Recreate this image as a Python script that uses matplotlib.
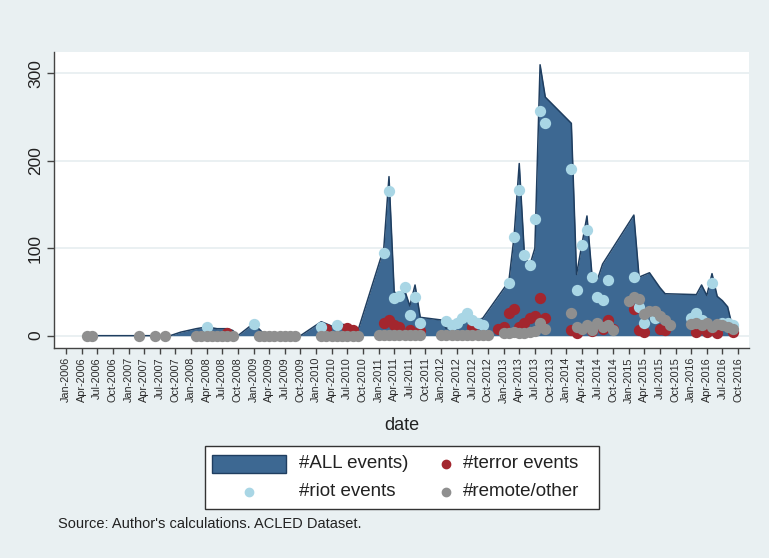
import matplotlib
matplotlib.use("Agg")
import matplotlib.pyplot as plt
from matplotlib.patches import Rectangle
from matplotlib.lines import Line2D

plt.rcParams['font.family'] = ['Liberation Sans', 'DejaVu Sans']

# months counted from Jan-2006 (0) -> Oct-2016 (129)
all_months = [4, 5, 14, 17, 19, 20, 22, 25, 27, 29, 31, 32, 33, 36, 38, 40, 42, 45,
              49, 51, 53, 54, 55, 56, 61, 62, 63, 64, 65, 66, 67, 68, 72, 73, 74, 75,
              76, 77, 78, 79, 80, 85, 86, 87, 88, 89, 90, 91, 92, 97, 98, 100, 101,
              102, 103, 109, 110, 112, 114, 115, 121, 122, 123, 124, 125, 126, 127, 128]
all_events = [0, 0, 0, 0, 0, 0, 4, 8, 10, 8, 8, 6, 0, 14, 2, 1, 2, 0,
              16, 11, 13, 12, 9, 5, 100, 182, 50, 47, 52, 34, 58, 21, 18, 8, 15, 17,
              20, 24, 22, 18, 20, 62, 113, 197, 92, 80, 100, 310, 273, 243, 70, 137, 67,
              64, 82, 138, 67, 72, 55, 48, 47, 58, 46, 71, 45, 40, 33, 8]

riot_months = [27, 36, 49, 52, 61, 62, 63, 64, 65, 66, 67, 68, 73, 74, 75, 76, 77, 78,
               79, 80, 85, 86, 87, 88, 89, 90, 91, 92, 97, 98, 99, 100, 101, 102, 103,
               104, 109, 110, 111, 113, 120, 121, 122, 124, 126, 127, 128]
riot_events = [10, 13, 10, 12, 95, 165, 43, 45, 56, 24, 44, 14, 17, 12, 14, 20, 26, 18,
               15, 12, 60, 113, 167, 92, 81, 133, 257, 243, 191, 52, 104, 121, 67, 44, 41,
               64, 67, 33, 14, 20, 20, 26, 18, 60, 15, 14, 12]

terror_months = [31, 50, 54, 55, 61, 62, 63, 64, 66, 68, 78, 83, 84, 85, 86, 87, 88, 89,
                 90, 91, 92, 97, 98, 101, 103, 104, 105, 109, 110, 111, 114, 115, 121,
                 123, 125, 128]
terror_events = [3, 8, 9, 6, 15, 18, 12, 10, 6, 5, 10, 8, 10, 26, 31, 10, 14, 20,
                 22, 43, 20, 6, 3, 5, 8, 18, 8, 31, 6, 4, 8, 6, 4,
                 4, 3, 4]

remote_months = [4, 5, 14, 17, 19, 25, 26, 27, 28, 29, 30, 31, 32, 37, 38, 39, 40, 41,
                 42, 43, 44, 49, 50, 51, 52, 53, 54, 55, 56, 60, 61, 62, 63, 64, 65, 66,
                 67, 68, 72, 73, 74, 75, 76, 77, 78, 79, 80, 81, 84, 85, 86, 87, 88, 89,
                 90, 91, 92, 97, 98, 99, 100, 101, 102, 103, 104, 105, 108, 109, 110,
                 111, 112, 113, 114, 115, 116, 120, 121, 122, 123, 124, 125, 126, 127, 128]
remote_events = [0, 0, 0, 0, 0, 0, 0, 0, 0, 0, 0, 0, 0, 0, 0, 0, 0, 0,
                 0, 0, 0, 0, 0, 0, 0, 0, 0, 0, 0, 1, 1, 1, 1, 1, 1, 1,
                 1, 1, 1, 1, 1, 1, 1, 1, 1, 1, 1, 1, 3, 3, 4, 3, 3, 4,
                 5, 14, 8, 26, 10, 8, 12, 6, 14, 10, 12, 6, 40, 44, 42,
                 25, 28, 28, 22, 18, 12, 13, 15, 12, 14, 10, 13, 12, 10, 8]

month_names = ['Jan', 'Apr', 'Jul', 'Oct']
tick_months = list(range(0, 130, 3))
tick_labels = [f"{month_names[(m % 12) // 3]}-{2006 + m // 12}" for m in tick_months]

# colours
BG = '#e9f0f2'
AREA = '#3d6892'
AREA_EDGE = '#1f3e60'
RIOT = '#a9d6e5'
TERROR = '#a3262e'
REMOTE = '#8f8f8f'

W, H = 769, 558
fig = plt.figure(figsize=(W / 100, H / 100), dpi=100, facecolor=BG)
ax = fig.add_axes([54 / W, 1 - 348 / H, (749 - 54) / W, (348 - 52) / H])
ax.set_facecolor('white')

ax.fill_between(all_months, all_events, 0, color=AREA, lw=0, zorder=2)
ax.plot(all_months, all_events, color=AREA_EDGE, lw=1.1, zorder=3)

ms = 66
ax.scatter(terror_months, terror_events, s=ms, color=TERROR, lw=0, zorder=4)
ax.scatter(riot_months, riot_events, s=ms, color=RIOT, lw=0, zorder=5)
ax.scatter(remote_months, remote_events, s=ms, color=REMOTE, lw=0, zorder=6)

ax.set_xlim(-2.3, 131.1)
ax.set_ylim(-14.1, 324.6)

ax.set_yticks([0, 100, 200, 300])
ax.set_yticklabels(['0', '100', '200', '300'], rotation=90, va='center', fontsize=12.5,
                   color='#222222')
ax.set_xticks(tick_months)
ax.set_xticklabels(tick_labels, rotation=90, fontsize=7.8, color='#2a2a2a')
ax.tick_params(axis='y', length=5, width=1, color='#444444', pad=3)
ax.tick_params(axis='x', length=4.5, width=1, color='#444444', pad=2)

ax.yaxis.grid(True, color='#e6eef0', lw=1.2)
ax.set_axisbelow(True)
for side in ['top', 'right']:
    ax.spines[side].set_visible(False)
for side in ['left', 'bottom']:
    ax.spines[side].set_color('#444444')
    ax.spines[side].set_linewidth(1)

fig.text(402 / W, 1 - 425 / H, 'date', ha='center', va='center', fontsize=13,
         color='#222222')

# legend box drawn in figure pixels
def fx(px):
    return px / W

def fy(py):
    return 1 - py / H

fig.add_artist(Rectangle((fx(205), fy(509)), fx(599) - fx(205), fy(446) - fy(509),
                         transform=fig.transFigure, facecolor='white',
                         edgecolor='#333333', lw=1))
fig.add_artist(Rectangle((fx(212), fy(473)), fx(286) - fx(212), fy(455) - fy(473),
                         transform=fig.transFigure, facecolor=AREA,
                         edgecolor=AREA_EDGE, lw=1))
for (mx, my, col) in [(249, 492, RIOT), (446, 464, TERROR), (446, 492, REMOTE)]:
    fig.add_artist(Line2D([fx(mx)], [fy(my)], marker='o', markersize=6, color=col,
                          lw=0, transform=fig.transFigure))
leg_fs = 13.5
fig.text(fx(299), fy(464), '#ALL events)', va='center', fontsize=leg_fs, color='#222222')
fig.text(fx(299), fy(492), '#riot events', va='center', fontsize=leg_fs, color='#222222')
fig.text(fx(463), fy(464), '#terror events', va='center', fontsize=leg_fs, color='#222222')
fig.text(fx(463), fy(492), '#remote/other', va='center', fontsize=leg_fs, color='#222222')

fig.text(fx(58), fy(524), "Source: Author's calculations. ACLED Dataset.", va='center',
         fontsize=10.5, color='#222222')

fig.savefig('out.png', dpi=100, facecolor=BG)
